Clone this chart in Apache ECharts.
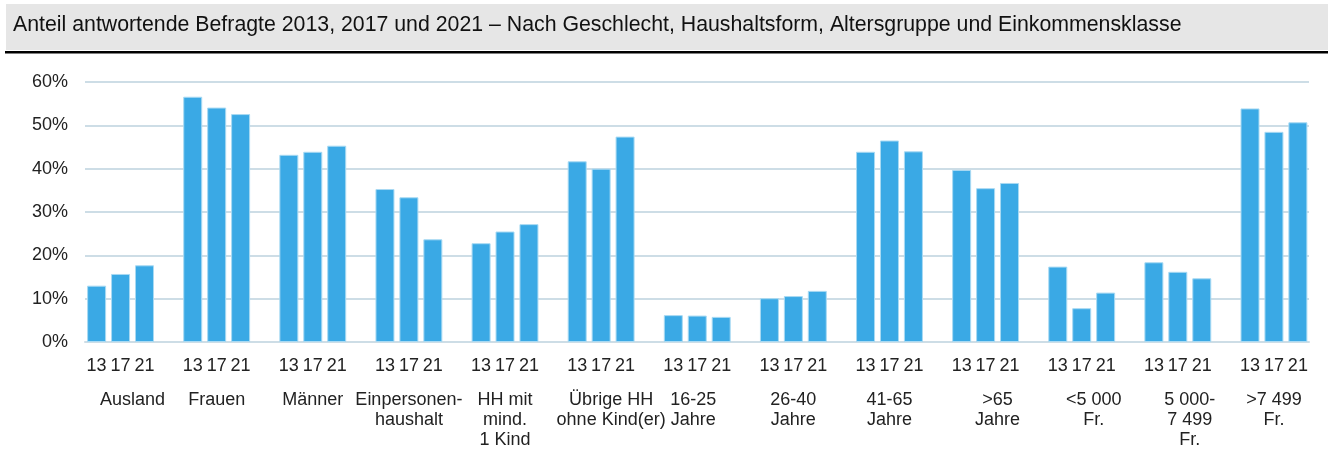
<!DOCTYPE html>
<html>
<head>
<meta charset="utf-8">
<title>Anteil antwortende Befragte</title>
<script src="https://cdn.jsdelivr.net/npm/echarts@6/dist/echarts.min.js"></script>
<style>
  html, body { margin: 0; padding: 0; background: #fff; }
  #main { width: 1328px; height: 450px; }
</style>
</head>
<body>
<div id="main"></div>
<script>
// categories and values (share in %)
var categories = ['Ausland', 'Frauen', 'Männer', 'Einpersonen-\nhaushalt', 'HH mit\nmind.\n1 Kind',
    'Übrige HH\nohne Kind(er)', '16-25\nJahre', '26-40\nJahre', '41-65\nJahre', '>65\nJahre',
    '<5 000\nFr.', '5 000-\n7 499\nFr.', '>7 499\nFr.'];
var years = ['13', '17', '21'];
var values2013 = [13.0, 56.6, 43.2, 35.3, 22.8, 41.7, 6.2, 10.1, 43.9, 39.7, 17.4, 18.4, 53.9];
var values2017 = [15.7, 54.1, 43.9, 33.4, 25.5, 40.0, 6.1, 10.6, 46.5, 35.5, 7.8, 16.2, 48.5];
var values2021 = [17.7, 52.6, 45.3, 23.7, 27.2, 47.4, 5.8, 11.8, 44.0, 36.7, 11.4, 14.7, 50.7];
var yTicks = [0, 10, 20, 30, 40, 50, 60];

var font = "'Liberation Sans', Arial, sans-serif";
var barColor = '#3aa9e5';
var gridColor = '#cddde6';

// some labels sit a bit off-centre in the original
var labelPad = { 'Ausland': 24, 'Übrige HH\nohne Kind(er)': 20, '16-25\nJahre': -8, '>65\nJahre': 24,
    '<5 000\nFr.': 24, '5 000-\n7 499\nFr.': 24 };

var catData = categories.map(function (c) {
    var p = labelPad[c] || 0;
    if (!p) return c;
    return { value: c, textStyle: { padding: p > 0 ? [0, 0, 0, p] : [0, -p, 0, 0] } };
});

var makeSeries = function (name, data) {
    return {
        name: name,
        type: 'bar',
        xAxisIndex: 1,
        yAxisIndex: 1,
        data: data,
        barWidth: 19,
        barGap: '26%',
        itemStyle: { color: barColor, borderColor: '#a9daf3', borderWidth: 1 },
        label: {
            show: true,
            position: 'bottom',
            distance: 15,
            formatter: function (p) { return p.seriesName; },
            fontFamily: font,
            fontSize: 18,
            color: '#222'
        },
        emphasis: { disabled: true }
    };
};

var dom = document.getElementById('main');
var chart = echarts.init(dom);
var option = {
    animation: false,
    title: {
        text: 'Anteil antwortende Befragte 2013, 2017 und 2021 – Nach Geschlecht, Haushaltsform, Altersgruppe und Einkommensklasse',
        left: 8,
        top: 15,
        padding: [0, 5],
        textStyle: { fontFamily: font, fontSize: 21.3, fontWeight: 'normal', color: '#111' }
    },
    graphic: [
        { type: 'rect', shape: { x: 6, y: 4, width: 1322, height: 46 }, style: { fill: '#e6e6e6' }, z: -10 },
        { type: 'rect', shape: { x: 5, y: 51, width: 1323, height: 2.5 }, style: { fill: '#000' }, z: -10 }
    ],
    grid: [
        { left: 85, right: 19, top: 82, bottom: 108 },
        { left: 72.5, right: 6, top: 82, bottom: 108 }
    ],
    xAxis: [
        {
            type: 'category', gridIndex: 0, data: categories,
            axisLine: { show: true, lineStyle: { color: gridColor, width: 2 } },
            axisTick: { show: false }, axisLabel: { show: false }
        },
        {
            type: 'category', gridIndex: 1, data: catData,
            axisLine: { show: false }, axisTick: { show: false },
            axisLabel: { margin: 48, interval: 0, fontFamily: font, fontSize: 18, lineHeight: 20, color: '#222' }
        }
    ],
    yAxis: [
        {
            type: 'value', gridIndex: 0, min: yTicks[0], max: yTicks[yTicks.length - 1], interval: 10,
            axisLine: { show: false }, axisTick: { show: false },
            axisLabel: { margin: 17, formatter: '{value}%', fontFamily: font, fontSize: 18, color: '#222' },
            splitLine: { lineStyle: { color: gridColor, width: 2 } }
        },
        {
            type: 'value', gridIndex: 1, min: yTicks[0], max: yTicks[yTicks.length - 1], interval: 10,
            show: false, splitLine: { show: false }
        }
    ],
    series: [
        makeSeries(years[0], values2013),
        makeSeries(years[1], values2017),
        makeSeries(years[2], values2021)
    ]
};
chart.setOption(option);
</script>
</body>
</html>
